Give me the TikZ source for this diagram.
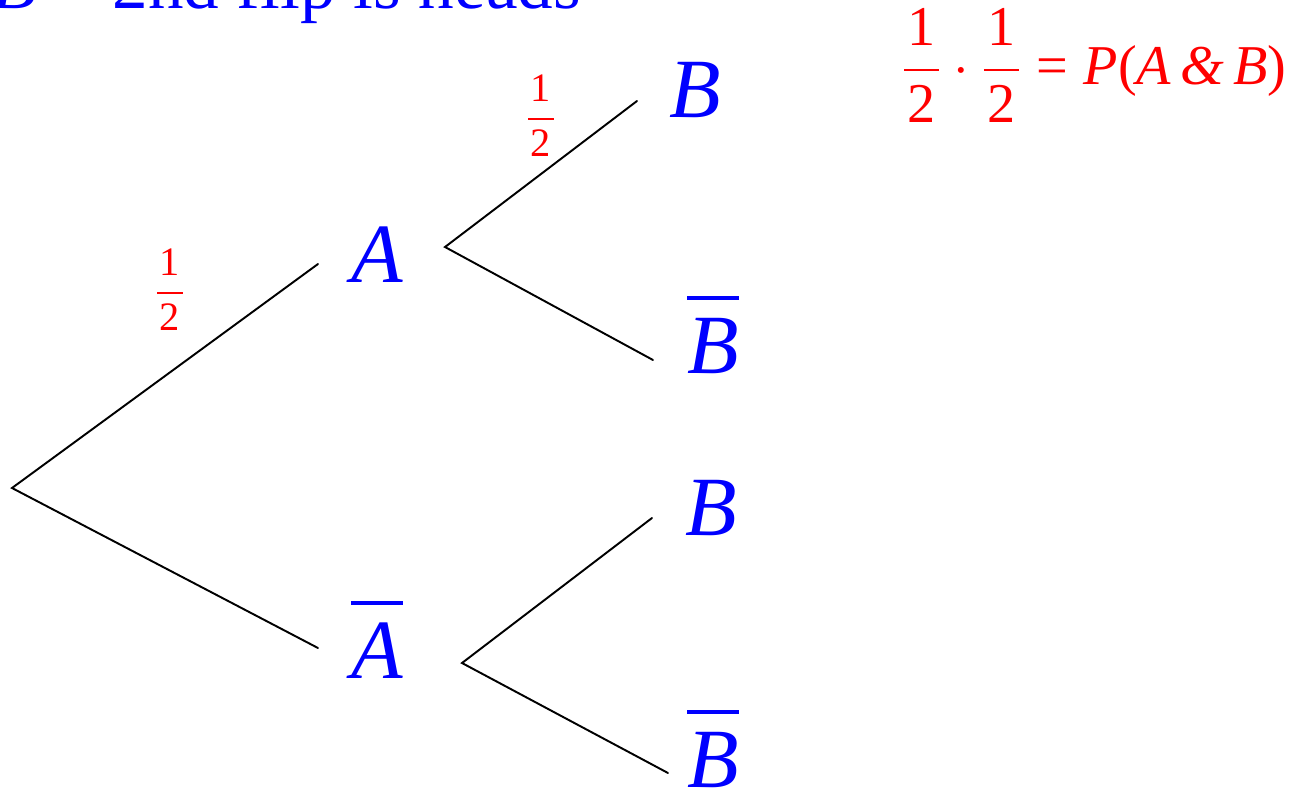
\documentclass[tikz,border=0pt]{standalone}
\usepackage{fontspec}
\setmainfont{Liberation Serif}
\usepackage{tikz}
\usetikzlibrary{positioning}
% scalable math fonts for the large sizes
\DeclareFontShape{OMX}{cmex}{m}{n}{<->cmex10}{}
\DeclareFontShape{OMS}{cmsy}{m}{n}{<->cmsy10}{}
\DeclareFontShape{OML}{cmm}{m}{it}{<->cmmi10}{}
\DeclareFontShape{OT1}{cmr}{m}{n}{<->cmr10}{}

\newcommand{\hlf}{\displaystyle\frac{\mbox{\hspace{0.06em}1\hspace{0.06em}}}{\mbox{2}}}
\newcommand{\evbar}[1]{\ensuremath{\overline{\mbox{\itshape #1}\rule{0pt}{0.75em}}}}

\begin{document}
\begin{tikzpicture}[x=0.02cm, y=-0.02cm,
    event/.style={blue, anchor=base, inner sep=0pt, font=\fontsize{48}{56}\selectfont\itshape},
    prob/.style={red, inner sep=0pt, font=\fontsize{23}{28}\selectfont},
    branch/.style={line width=1.1pt, line cap=round}]
  \useasboundingbox (0,0) rectangle (1298,791);
  \clip (0,0) rectangle (1298,791);
  %% Heading, cut off at the top edge
  \node[blue, anchor=base west, inner sep=0pt, font=\fontsize{40.5}{48}\selectfont] (head) at (-7,9)
    {\textit{B} = 2nd flip is heads};
  %% Result of the top path
  \node[red, anchor=base east, inner sep=0pt, font=\fontsize{32}{38}\selectfont] (rule) at (1287,84)
    {$\hlf\cdot\hlf\mathrel{\mbox{=}}\mbox{\itshape P}\mbox{(}\mbox{\itshape A}\,\mbox{\itshape\&}\,\mbox{\itshape B}\mbox{)}$};
  %% Events of the first and second flip
  \node[event] (A) at (377,282) {A};
  \node[event] (nA) at (377,678) {\evbar{A}};
  \node[event] (AB) at (695,117) {B};
  \node[event] (AnB) at (713,373) {\evbar{B}};
  \node[event] (nAB) at (711,535) {B};
  \node[event] (nAnB) at (713,787) {\evbar{B}};
  %% Branch ends
  \coordinate (root) at (12,488);
  \coordinate (A-in) at (318,264);
  \coordinate (nA-in) at (318,648);
  \coordinate (A-out) at (445,247);
  \coordinate (AB-in) at (637,101);
  \coordinate (AnB-in) at (653,360);
  \coordinate (nA-out) at (462,663);
  \coordinate (nAB-in) at (652,518);
  \coordinate (nAnB-in) at (668,773);
  %% Branches
  \draw[branch] (A-in) -- (root) -- (nA-in);
  \draw[branch] (AB-in) -- (A-out) -- (AnB-in);
  \draw[branch] (nAB-in) -- (nA-out) -- (nAnB-in);
  %% Probabilities on the branches
  \node[prob] (pA) at (170,290) {$\hlf$};
  \node[prob] (pAB) at (541,116) {$\hlf$};
\end{tikzpicture}
\end{document}
